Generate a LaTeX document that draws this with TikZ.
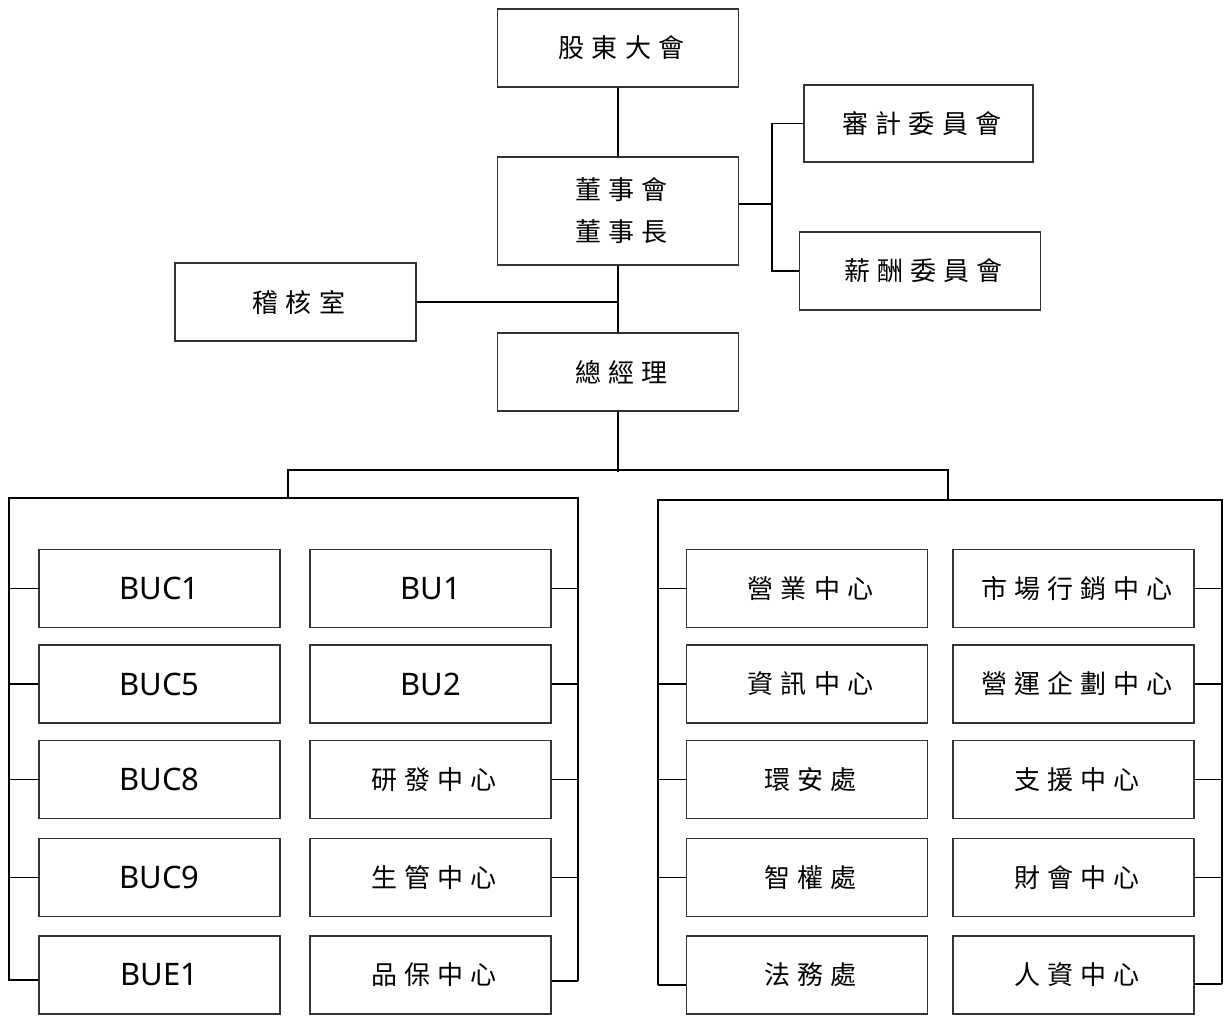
\documentclass[tikz,border=0pt]{standalone}
\usepackage{fontspec}
\setmainfont{Noto Sans}
\newfontfamily\cjkf[LetterSpace=27]{Noto Sans CJK TC}
\newfontfamily\latf{Noto Sans}
\usetikzlibrary{calc}
\newcommand{\cj}[1]{{\cjkf #1\kern-0.27em}}
\begin{document}
\begin{tikzpicture}[x=1pt,y=-1pt,
  box/.style={draw=black!80, line width=1.2pt, inner sep=0pt, align=center,
    minimum width=241pt, minimum height=78pt, font=\fontsize{26}{42}\selectfont},
  lat/.style={font=\latf\fontsize{31}{36}\selectfont},
  link/.style={draw=black, line width=1.8pt},
  tick/.style={draw=black, line width=1.5pt}]
\useasboundingbox (0,0) rectangle (1230,1015);

% top part
\node[box] (gsm) at (618,48) {\cj{股東大會}};
\node[box, minimum height=108pt] (bd) at (618,211) {\cj{董事會}\\\cj{董事長}};
\node[box, minimum width=229pt, minimum height=77pt] (ac) at (918.5,123.5) {\cj{審計委員會}};
\node[box] (cc) at (920,271) {\cj{薪酬委員會}};
\node[box] (ia) at (295.5,302) {\cj{稽核室}};
\node[box] (gm) at (618,372) {\cj{總經理}};

% left group
\node[box, lat] (buc1) at (159.5,588.5) {BUC1};
\node[box, lat] (buc5) at (159.5,684) {BUC5};
\node[box, lat] (buc8) at (159.5,779.5) {BUC8};
\node[box, lat] (buc9) at (159.5,877.5) {BUC9};
\node[box, lat] (bue1) at (159.5,975) {BUE1};
\node[box, lat] (bu1) at (430.5,588.5) {BU1};
\node[box, lat] (bu2) at (430.5,684) {BU2};
\node[box] (rd) at (430.5,779.5) {\cj{研發中心}};
\node[box] (pc) at (430.5,877.5) {\cj{生管中心}};
\node[box] (qa) at (430.5,975) {\cj{品保中心}};

% right group
\node[box] (sales) at (807,588.5) {\cj{營業中心}};
\node[box] (it) at (807,684) {\cj{資訊中心}};
\node[box] (ehs) at (807,779.5) {\cj{環安處}};
\node[box] (ip) at (807,877.5) {\cj{智權處}};
\node[box] (legal) at (807,975) {\cj{法務處}};
\node[box] (mkt) at (1073.5,588.5) {\cj{市場行銷中心}};
\node[box] (ops) at (1073.5,684) {\cj{營運企劃中心}};
\node[box] (sup) at (1073.5,779.5) {\cj{支援中心}};
\node[box] (fin) at (1073.5,877.5) {\cj{財會中心}};
\node[box] (hr) at (1073.5,975) {\cj{人資中心}};

% connectors top
\draw[link] (gsm) -- (bd);
\coordinate (acj) at (772,204);
\draw[link] ($(bd.east)+(0,-7)$) -- (acj);
\draw[link] (ac.west) -| (acj) |- (cc.west);
\draw[link] (bd) -- (gm);
\draw[link] (ia.east) -- (ia.east -| gm.north);
\coordinate (split) at (618,472);
\draw[link] (gm.south) -- (split);
\coordinate (bar) at (0,470);
\coordinate (lg) at (288,498);
\coordinate (rg) at (948,500);
\draw[link] (lg) |- (rg |- bar) -- (rg);

% group frames
\coordinate (lrL) at (9,0);
\coordinate (lrR) at (578,0);
\coordinate (rrL) at (658,0);
\coordinate (rrR) at (1222,0);
\draw[link] (9,981) |- (578,498) -- (578,981);
\draw[link] (658,985) |- (1222,500) -- (1222,984);

% ticks
\foreach \n in {buc1,buc5,buc8,buc9}
  \draw[tick] (\n.west) -- (\n.west -| lrL);
\draw[tick] ($(bue1.west)+(0,5)$) -- ($(bue1.west -| lrL)+(0,5)$);
\foreach \n in {bu1,bu2,rd,pc}
  \draw[tick] (\n.east) -- (\n.east -| lrR);
\draw[tick] ($(qa.east)+(0,6)$) -- ($(qa.east -| lrR)+(0,6)$);
\foreach \n in {sales,it,ehs,ip}
  \draw[tick] (\n.west) -- (\n.west -| rrL);
\draw[tick] ($(legal.west)+(0,10)$) -- ($(legal.west -| rrL)+(0,10)$);
\foreach \n in {mkt,ops,sup,fin}
  \draw[tick] (\n.east) -- (\n.east -| rrR);
\draw[tick] ($(hr.east)+(0,9)$) -- ($(hr.east -| rrR)+(0,9)$);
\end{tikzpicture}
\end{document}
